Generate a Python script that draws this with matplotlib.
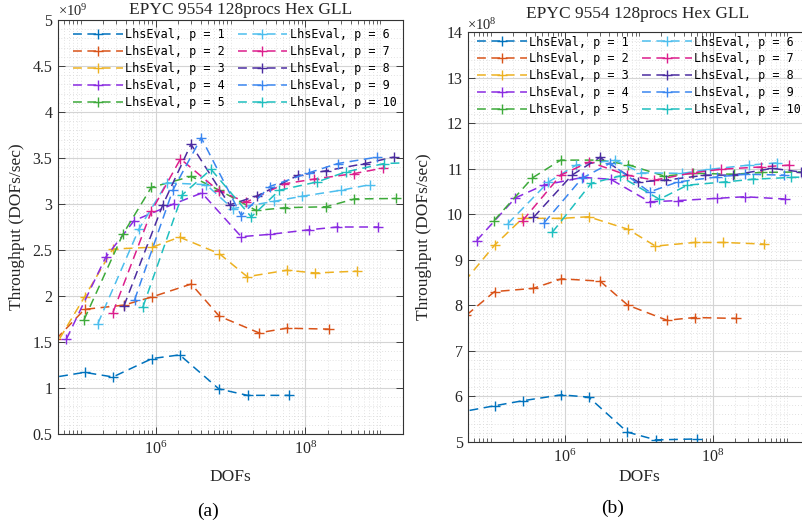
import matplotlib
matplotlib.use('Agg')
import matplotlib.pyplot as plt
from matplotlib.ticker import FixedLocator, LogLocator, MultipleLocator, FuncFormatter, LogFormatterMathtext, NullFormatter

plt.rcParams['font.family'] = ['Liberation Serif', 'DejaVu Serif']
plt.rcParams['mathtext.fontset'] = 'custom'
plt.rcParams['mathtext.rm'] = 'Liberation Serif'
plt.rcParams['mathtext.it'] = 'Liberation Serif:italic'

# ---------------- data ----------------
# DOFs per polynomial order (shared by both panels)
dofs_p1 = [3.35e4, 1.13e5, 2.70e5, 9.0e5, 2.10e6, 7.0e6, 1.69e7, 6.0e7]
dofs_p2 = [4.7e4, 1.13e5, 3.74e5, 9.0e5, 2.99e6, 7.1e6, 2.39e7, 5.64e7, 2.05e8]
dofs_p3 = [3.35e4, 1.13e5, 2.69e5, 9.0e5, 2.09e6, 7.1e6, 1.67e7, 5.66e7, 1.36e8, 4.83e8]
dofs_p4 = [6.46e4, 2.16e5, 5.19e5, 1.74e6, 4.15e6, 1.39e7, 3.35e7, 1.12e8, 2.67e8, 9.27e8]
dofs_p5 = [1.11e5, 3.66e5, 8.77e5, 2.99e6, 7.08e6, 2.2e7, 5.41e7, 1.89e8, 4.5e8, 1.62e9]
dofs_p6 = [1.70e5, 6.03e5, 1.42e6, 4.74e6, 1.07e7, 3.86e7, 9.12e7, 3.02e8, 7.19e8]
dofs_p7 = [2.70e5, 8.81e5, 2.15e6, 6.92e6, 1.62e7, 5.25e7, 1.29e8, 4.41e8, 1.07e9]
dofs_p8 = [3.78e5, 1.25e6, 2.97e6, 9.7e6, 2.29e7, 7.89e7, 1.86e8, 6.25e8, 1.51e9]
dofs_p9 = [5.25e5, 1.70e6, 4.07e6, 1.39e7, 3.33e7, 1.12e8, 2.69e8, 9.12e8]
dofs_p10 = [6.76e5, 2.27e6, 5.5e6, 1.89e7, 4.5e7, 1.43e8, 3.49e8, 1.13e9, 2.69e9]

# panel (a) throughput, units of 1e9 DOFs/sec
tput_a_p1 = [1.10, 1.17, 1.12, 1.32, 1.36, 0.99, 0.92, 0.92]
tput_a_p2 = [1.53, 1.855, 1.90, 1.99, 2.13, 1.78, 1.60, 1.65, 1.64]
tput_a_p3 = [1.27, 1.99, 2.51, 2.53, 2.64, 2.46, 2.21, 2.28, 2.25, 2.27]
tput_a_p4 = [1.53, 2.42, 2.82, 3.00, 3.12, 2.645, 2.67, 2.72, 2.75, 2.75]
tput_a_p5 = [1.74, 2.67, 3.18, 3.30, 3.15, 2.93, 2.96, 2.97, 3.055, 3.06]
tput_a_p6 = [1.70, 2.73, 3.23, 3.21, 2.95, 3.03, 3.085, 3.15, 3.21]
tput_a_p7 = [1.82, 2.92, 3.49, 3.145, 3.02, 3.22, 3.27, 3.33, 3.39]
tput_a_p8 = [1.89, 2.99, 3.65, 2.99, 3.09, 3.31, 3.36, 3.44, 3.51]
tput_a_p9 = [1.957, 3.15, 3.72, 2.875, 3.19, 3.34, 3.44, 3.51]
tput_a_p10 = [1.877, 3.10, 3.377, 2.86, 3.15, 3.24, 3.35, 3.44, 3.45]

# panel (b) throughput, units of 1e8 DOFs/sec
tput_b_p1 = [5.63, 5.79, 5.90, 6.03, 5.98, 5.21, 5.04, 5.06]
tput_b_p2 = [7.78, 8.30, 8.37, 8.58, 8.53, 8.00, 7.67, 7.73, 7.71]
tput_b_p3 = [8.28, 9.32, 9.91, 9.91, 9.945, 9.67, 9.30, 9.38, 9.38, 9.345]
tput_b_p4 = [9.42, 10.36, 10.64, 10.81, 10.77, 10.275, 10.30, 10.35, 10.385, 10.335]
tput_b_p5 = [9.86, 10.80, 11.19, 11.19, 11.09, 10.84, 10.90, 10.88, 10.92, 10.93]
tput_b_p6 = [9.79, 10.71, 11.08, 11.19, 10.91, 10.90, 10.99, 11.08, 11.13]
tput_b_p7 = [9.86, 10.86, 11.15, 10.86, 10.75, 10.91, 10.99, 11.04, 11.08]
tput_b_p8 = [9.93, 10.86, 11.25, 10.71, 10.75, 10.86, 10.86, 11.01, 10.93]
tput_b_p9 = [9.81, 10.79, 11.12, 10.49, 10.71, 10.82, 10.88, 10.86]
tput_b_p10 = [9.60, 10.68, 10.84, 10.33, 10.64, 10.71, 10.77, 10.81, 10.83]

orders = [1, 2, 3, 4, 5, 6, 7, 8, 9, 10]
labels = ['LhsEval, p = %d' % p for p in orders]
colors = ['#0072BD', '#D95319', '#EDB120', '#8A2BE2', '#3DAA3A',
          '#4DBEEE', '#DC1E8C', '#4B2CA0', '#3A86F0', '#1FBFBF']

dofs = [dofs_p1, dofs_p2, dofs_p3, dofs_p4, dofs_p5, dofs_p6, dofs_p7, dofs_p8, dofs_p9, dofs_p10]
tput_a = [tput_a_p1, tput_a_p2, tput_a_p3, tput_a_p4, tput_a_p5,
          tput_a_p6, tput_a_p7, tput_a_p8, tput_a_p9, tput_a_p10]
tput_b = [tput_b_p1, tput_b_p2, tput_b_p3, tput_b_p4, tput_b_p5,
          tput_b_p6, tput_b_p7, tput_b_p8, tput_b_p9, tput_b_p10]

title = 'EPYC 9554 128procs Hex GLL'

# ---------------- figure ----------------
W, H = 802, 529
fig = plt.figure(figsize=(W / 100, H / 100), dpi=100)

def px_axes(x0, y0, x1, y1):
    return fig.add_axes([x0 / W, 1 - y1 / H, (x1 - x0) / W, (y1 - y0) / H])

ax_a = px_axes(58, 20, 403, 434)
ax_b = px_axes(468.3, 32.3, 809.6, 441.7)

dash = (0, (5.8, 3.6))
for ax, tp, ylim, ystep, yminor in [(ax_a, tput_a, (0.5, 5), 0.5, 0.1),
                                     (ax_b, tput_b, (5, 14), 1, 0.2)]:
    for x, y, c, lab in zip(dofs, tp, colors, labels):
        ax.plot(x, y, linestyle=dash, lw=1.1, color=c, marker='+', ms=7.5, mew=1.0, label=lab)
    ax.set_xscale('log')
    ax.set_xlim(5e4, 2e9)
    ax.set_ylim(*ylim)
    ax.xaxis.set_major_locator(FixedLocator([1e6, 1e8]))
    ax.xaxis.set_major_formatter(LogFormatterMathtext())
    ax.xaxis.set_minor_locator(LogLocator(base=10, subs=range(1, 10), numticks=30))
    ax.xaxis.set_minor_formatter(NullFormatter())
    ax.yaxis.set_major_locator(MultipleLocator(ystep))
    ax.yaxis.set_minor_locator(MultipleLocator(yminor))
    ax.yaxis.set_major_formatter(FuncFormatter(lambda v, pos: '%g' % v))
    ax.tick_params(which='both', direction='in', top=True, right=True, colors='#262626',
                   labelsize=11.5, labelcolor='#262626')
    ax.tick_params(which='major', length=5, width=0.6)
    ax.tick_params(axis='x', which='minor', length=3, width=0.5)
    ax.tick_params(axis='y', which='minor', length=0)
    ax.tick_params(axis='x', which='major', pad=5)
    ax.tick_params(axis='y', which='major', pad=4)
    ax.grid(which='major', color='#d4d4d4', lw=0.8, ls='-')
    ax.grid(which='minor', color='#d8d8d8', lw=0.6, ls=(0, (1, 2.5)))
    ax.set_axisbelow(True)
    for s in ax.spines.values():
        s.set_color('#333333')
        s.set_linewidth(0.8)
    ax.set_xlabel('DOFs', fontsize=12.5, color='#262626')
    ax.set_ylabel('Throughput (DOFs/sec)', fontsize=12.5, color='#262626')

ax_a.xaxis.set_label_coords(0.5, -0.085)
ax_b.xaxis.set_label_coords(0.5, -0.066)
ax_a.yaxis.set_label_coords(-0.097, 0.5)
ax_b.yaxis.set_label_coords(-0.106, 0.5)

leg_kw = dict(ncol=2, loc='upper left', frameon=False,
              prop={'family': 'DejaVu Sans Mono', 'size': 8.5},
              handlelength=4.2, handletextpad=0.2, columnspacing=1.1,
              labelspacing=0.33, borderpad=0, borderaxespad=0)
ax_a.legend(bbox_to_anchor=(0.0435, 0.98), **leg_kw)
ax_b.legend(bbox_to_anchor=(0.0264, 0.992), **leg_kw)

# titles, multipliers, panel labels
fig.text(241 / W, 1 - 13.5 / H, title, ha='center', va='baseline', fontsize=12.5, color='#262626')
fig.text(638 / W, 1 - 17.5 / H, title, ha='center', va='baseline', fontsize=12.5, color='#262626')
fig.text(58 / W, 1 - 16 / H, r'$\times10^{9}$', ha='left', va='baseline', fontsize=10.5, color='#262626')
fig.text(467 / W, 1 - 29.5 / H, r'$\times10^{8}$', ha='left', va='baseline', fontsize=10.5, color='#262626')
fig.text(207.5 / W, 1 - 511 / H, '(a)', ha='center', va='center', fontsize=14)
fig.text(613 / W, 1 - 508 / H, '(b)', ha='center', va='center', fontsize=14)

fig.savefig('out.png', dpi=100)
